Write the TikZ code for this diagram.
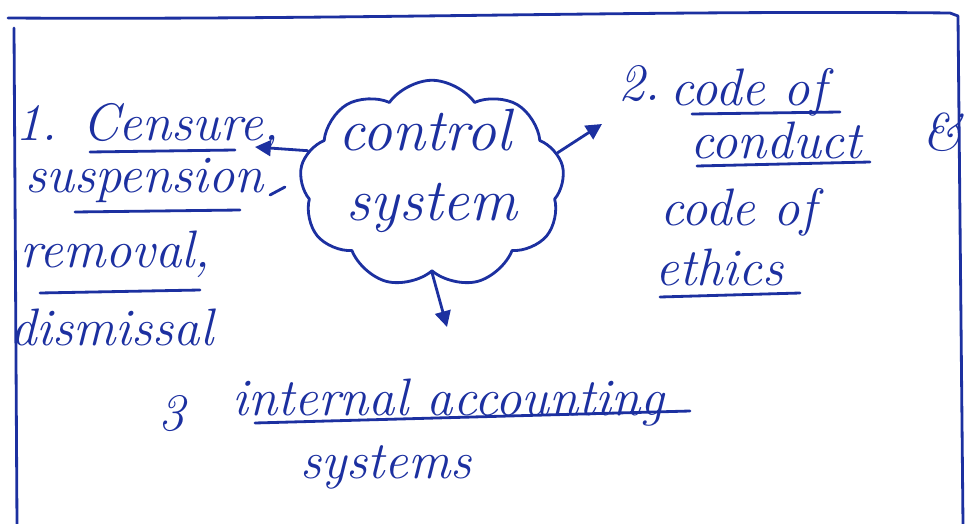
\documentclass[tikz,border=0pt]{standalone}
\usetikzlibrary{shapes.symbols,arrows.meta}
\definecolor{ink}{RGB}{28,48,160}
\begin{document}
\begin{tikzpicture}[x=0.02cm,y=-0.02cm,
  hand/.style={font=\fontsize{30}{36}\selectfont\itshape, text=ink, inner sep=0pt, anchor=base west},
  pen/.style={draw=ink, line width=1.6pt, line cap=round, line join=round},
  tip/.style={pen, -{Triangle[length=9pt,width=9pt]}}]
\useasboundingbox (0,0) rectangle (975,524);
% frame of the page
\draw[pen] (8,18) .. controls (350,20) and (650,10) .. (950,13) -- (958,16) -- (963,524);
\draw[pen] (14,28) -- (17,524);

% central cloud
\node[cloud, cloud puffs=9, cloud puff arc=110, aspect=1.3, pen,
      minimum width=5.3cm, minimum height=4.15cm] (cloud) at (432,184) {};
\node[hand, anchor=base, font=\fontsize{34}{40}\selectfont\itshape] (c1) at (425,150) {control};
\node[hand, anchor=base, font=\fontsize{34}{40}\selectfont\itshape] (c2) at (432,220) {system};

% 1. left branch
\node[hand] (l1) at (15,140) {1. Censure,};
\node[hand] (l2) at (25,192) {suspension};
\node[hand] (l3) at (20,267) {removal,};
\node[hand] (l4) at (10,345) {dismissal};
\draw[pen] (90,152) -- (235,150);
\draw[pen] (75,212) -- (240,210);
\draw[pen] (40,293) -- (200,290);
\draw[pen] (270,195) -- (285,187);

% 2. right branch
\node[hand] (r0) at (618,100) {2.};
\node[hand] (r1) at (670,105) {code of};
\node[hand] (r2) at (690,158) {conduct};
\node[hand] (r2b) at (922,150) {\&};
\node[hand] (r3) at (660,225) {code of};
\node[hand] (r4) at (655,285) {ethics};
\draw[pen] (692,114) -- (840,112);
\draw[pen] (697,166) -- (870,162);
\draw[pen] (660,297) -- (800,293);

% 3. bottom branch
\node[hand] (b0) at (158,430) {3};
\node[hand] (b1) at (232,415) {internal accounting};
\node[hand] (b2) at (300,478) {systems};
\draw[pen] (255,423) -- (690,411);

% connectors
\coordinate (la) at (255,147);
\coordinate (ra) at (602,124);
\coordinate (da) at (447,327);
\draw[tip] (cloud.165) -- (la);
\draw[tip] (cloud.14) -- (ra);
\draw[tip] (cloud.south) -- (da);
\end{tikzpicture}
\end{document}
